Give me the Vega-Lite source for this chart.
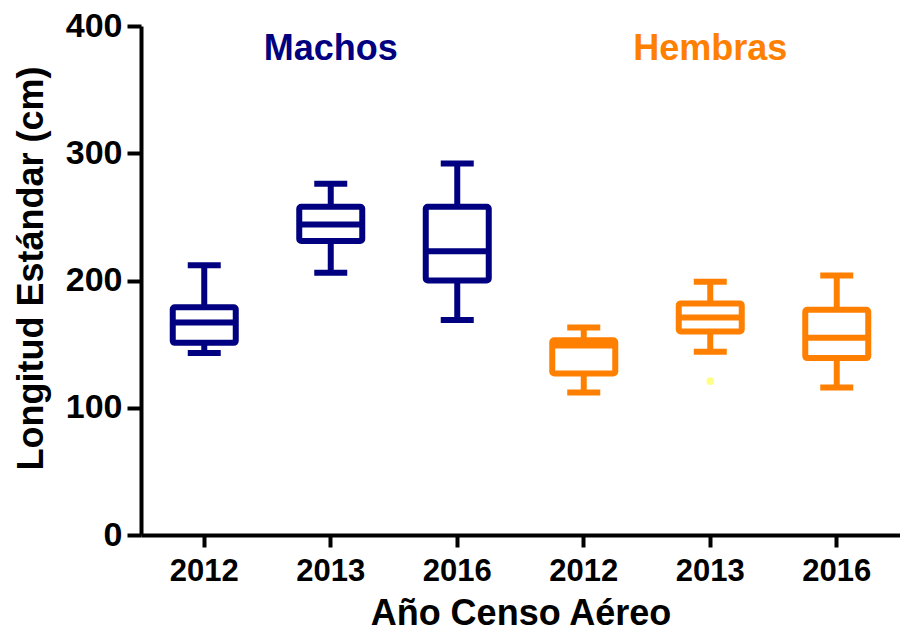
{
  "$schema": "https://vega.github.io/schema/vega-lite/v6.json",
  "width": 759,
  "height": 509,
  "autosize": {"type": "none"},
  "padding": {"left": 141, "top": 26, "right": 0, "bottom": 96},
  "background": "white",
  "config": {"view": {"stroke": null}, "font": "Liberation Sans"},
  "data": {
    "values": [
      {"key": "M-2012", "sex": "M", "min": 143, "q1": 151, "median": 167, "q3": 179, "max": 212},
      {"key": "M-2013", "sex": "M", "min": 206, "q1": 231, "median": 244, "q3": 258, "max": 276},
      {"key": "M-2016", "sex": "M", "min": 169, "q1": 200, "median": 223, "q3": 258, "max": 292},
      {"key": "F-2012", "sex": "F", "min": 112, "q1": 127, "median": 149, "q3": 153, "max": 163},
      {"key": "F-2013", "sex": "F", "min": 144, "q1": 160, "median": 171, "q3": 182, "max": 199},
      {"key": "F-2016", "sex": "F", "min": 116, "q1": 139, "median": 155, "q3": 177, "max": 204}
    ]
  },
  "encoding": {
    "x": {
      "field": "key",
      "type": "nominal",
      "sort": ["M-2012", "M-2013", "M-2016", "F-2012", "F-2013", "F-2016"],
      "scale": {"domain": ["M-2012", "M-2013", "M-2016", "F-2012", "F-2013", "F-2016"], "paddingInner": 0, "paddingOuter": 0},
      "axis": {
        "title": "Año Censo Aéreo",
        "labelExpr": "substring(datum.label, 2)",
        "labelAngle": 0,
        "labelFont": "Liberation Sans",
        "labelFontSize": 31,
        "labelFontWeight": "bold",
        "labelColor": "black",
        "labelBaseline": "alphabetic",
        "labelPadding": 33,
        "domainColor": "black",
        "domainWidth": 4,
        "tickColor": "black",
        "tickWidth": 4,
        "tickSize": 12,
        "grid": false,
        "titleFont": "Liberation Sans",
        "titleFontSize": 36,
        "titleFontWeight": "bold",
        "titleColor": "black",
        "titleBaseline": "alphabetic",
        "titleY": 89
      }
    },
    "color": {
      "field": "sex",
      "type": "nominal",
      "scale": {"domain": ["M", "F"], "range": ["#000080", "#FF8000"]},
      "legend": null
    }
  },
  "layer": [
    {
      "mark": {"type": "rule", "strokeWidth": 6},
      "encoding": {
        "y": {
          "field": "min",
          "type": "quantitative",
          "scale": {"domain": [0, 400], "nice": false},
          "axis": {
            "values": [0, 100, 200, 300, 400],
            "title": "Longitud Estándar (cm)",
            "grid": false,
            "labelFont": "Liberation Sans",
            "labelFontSize": 34,
            "labelFontWeight": "bold",
            "labelColor": "black",
            "labelPadding": 5,
            "domainColor": "black",
            "domainWidth": 4,
            "tickColor": "black",
            "tickWidth": 4,
            "tickSize": 14,
            "titleFont": "Liberation Sans",
            "titleFontSize": 36,
            "titleFontWeight": "bold",
            "titleColor": "black",
            "titleAngle": 270,
            "titleAlign": "center",
            "titleBaseline": "alphabetic",
            "titleX": -99,
            "titleY": 242
          }
        },
        "y2": {"field": "q1"}
      }
    },
    {
      "mark": {"type": "rule", "strokeWidth": 6},
      "encoding": {
        "y": {"field": "q3", "type": "quantitative"},
        "y2": {"field": "max"}
      }
    },
    {
      "mark": {"type": "tick", "size": 33, "thickness": 6, "opacity": 1},
      "encoding": {"y": {"field": "min", "type": "quantitative"}}
    },
    {
      "mark": {"type": "tick", "size": 33, "thickness": 6, "opacity": 1},
      "encoding": {"y": {"field": "max", "type": "quantitative"}}
    },
    {
      "mark": {"type": "bar", "width": 63, "fill": "white", "strokeWidth": 6, "cornerRadius": 2},
      "encoding": {
        "y": {"field": "q1", "type": "quantitative"},
        "y2": {"field": "q3"},
        "color": null,
        "stroke": {
          "field": "sex",
          "type": "nominal",
          "scale": {"domain": ["M", "F"], "range": ["#000080", "#FF8000"]},
          "legend": null
        }
      }
    },
    {
      "mark": {"type": "tick", "size": 63, "thickness": 6, "opacity": 1},
      "encoding": {"y": {"field": "median", "type": "quantitative"}}
    },
    {
      "data": {"values": [{"key": "F-2013", "sex": "F", "value": 121}]},
      "mark": {"type": "point", "filled": true, "size": 60, "opacity": 1},
      "encoding": {
        "y": {"field": "value", "type": "quantitative"},
        "color": {"value": "#FFFF88"}
      }
    },
    {
      "data": {"values": [{"key": "M-2013", "sex": "M", "label": "Machos"}, {"key": "F-2013", "sex": "F", "label": "Hembras"}]},
      "mark": {"type": "text", "fontSize": 36, "fontWeight": "bold", "font": "Liberation Sans", "baseline": "alphabetic", "align": "center"},
      "encoding": {
        "y": {"datum": 373, "type": "quantitative"},
        "text": {"field": "label"}
      }
    }
  ]
}
